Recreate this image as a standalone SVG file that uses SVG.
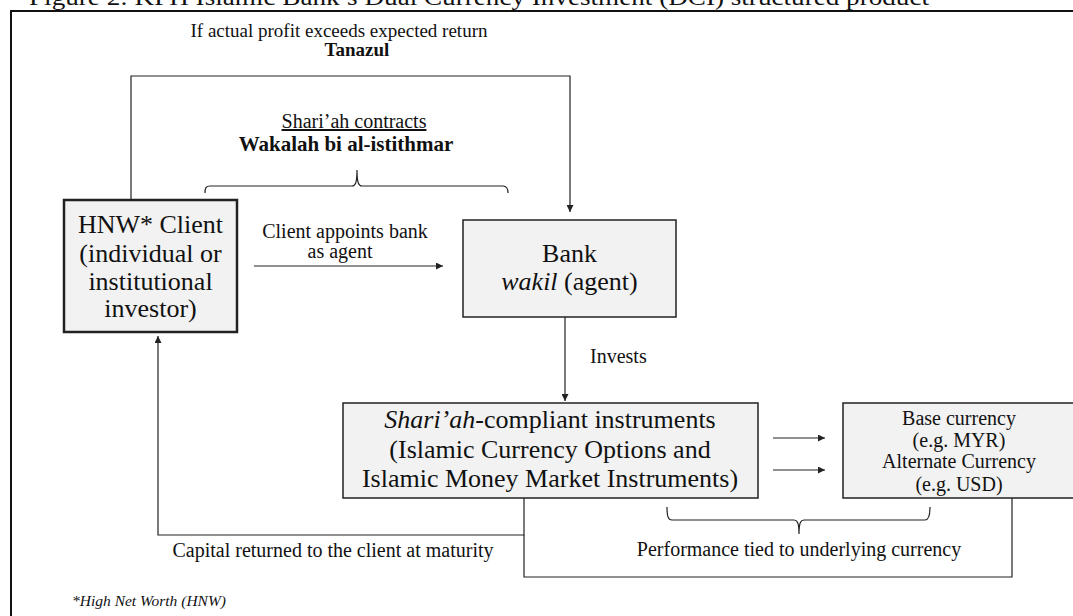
<svg xmlns="http://www.w3.org/2000/svg" width="1073" height="616" viewBox="0 0 1073 616">
<style>
text{font-family:"Liberation Serif","Times New Roman",serif;fill:#111}
.box{fill:#f2f2f2;stroke:#222;stroke-width:1.5}
.thick{stroke-width:2.5}
.ln{fill:none;stroke:#222;stroke-width:1.2}
.arr{marker-end:url(#ah)}
.b26{font-size:26px;text-anchor:middle}
.c20{font-size:20px;text-anchor:middle}
.lab{font-size:19px}
.mid{text-anchor:middle}
</style>
<defs>
<marker id="ah" viewBox="0 0 10 10" refX="10" refY="5" markerWidth="7" markerHeight="7" markerUnits="userSpaceOnUse" orient="auto">
<path d="M0,0 L10,5 L0,10 z" fill="#222"/>
</marker>
</defs>
<rect width="1073" height="616" fill="#fff"/>
<text x="29" y="5" font-size="24" textLength="900" lengthAdjust="spacingAndGlyphs">Figure 2: KFH Islamic Bank’s Dual Currency Investment (DCI) structured product</text>
<path d="M11,616 V11 H1073" fill="none" stroke="#111" stroke-width="2"/>

<g id="connectors">
<path class="ln arr" d="M131,200 V76 H570 V212"/>
<path class="ln arr" d="M254,266 H443"/>
<path class="ln arr" d="M565,317 V401"/>
<path class="ln arr" d="M773,438 H825"/>
<path class="ln arr" d="M773,470 H825"/>
<path class="ln arr" d="M524,498 V535 H158 V336"/>
<path class="ln" d="M524,535 V577 H1012 V498"/>
<path class="ln" d="M205,193 C205,188 206,186 210,186 L352,186 C355,186 357,184 357,170 C357,184 359,186 362,186 L503,186 C506,186 508,188 508,193"/>
<path class="ln" d="M667,507 C667,516 668,520 672,520 L794,520 C797,520 799,522 799,534 C799,522 801,520 804,520 L925,520 C928,520 930,516 930,507"/>
</g>

<g id="label-tanazul">
<text class="lab mid" x="339" y="37">If actual profit exceeds expected return</text>
<text class="lab mid" x="357" y="56" font-weight="bold">Tanazul</text>
</g>
<g id="label-contracts">
<text class="mid" x="354" y="128" font-size="20" text-decoration="underline">Shari’ah contracts</text>
<text class="mid" x="346" y="151" font-size="21" font-weight="bold">Wakalah bi al-istithmar</text>
</g>
<g id="label-appoints">
<text class="c20" x="345" y="238">Client appoints bank</text>
<text class="c20" x="340" y="258">as agent</text>
</g>
<g id="label-invests">
<text x="590" y="363" font-size="20">Invests</text>
</g>
<g id="label-capital">
<text class="c20" x="333" y="557">Capital returned to the client at maturity</text>
</g>
<g id="label-performance">
<text class="c20" x="799" y="556">Performance tied to underlying currency</text>
</g>

<g id="client">
<rect class="box thick" x="64" y="200" width="173" height="132"/>
<text class="b26" x="150.5" y="233">HNW* Client</text>
<text class="b26" x="150.5" y="262">(individual or</text>
<text class="b26" x="150.5" y="290">institutional</text>
<text class="b26" x="150.5" y="317">investor)</text>
</g>
<g id="bank">
<rect class="box" x="463" y="220" width="213" height="97"/>
<text class="b26" x="569.5" y="262">Bank</text>
<text class="b26" x="569.5" y="290"><tspan font-style="italic">wakil</tspan> (agent)</text>
</g>
<g id="instruments">
<rect class="box" x="343" y="403" width="415" height="95"/>
<text class="b26" x="550" y="428"><tspan font-style="italic">Shari’ah</tspan>-compliant instruments</text>
<text class="b26" x="550" y="458">(Islamic Currency Options and</text>
<text class="b26" x="550" y="487">Islamic Money Market Instruments)</text>
</g>
<g id="currency">
<rect class="box" x="843" y="403" width="240" height="95"/>
<text class="c20" x="959" y="425">Base currency</text>
<text class="c20" x="959" y="447">(e.g. MYR)</text>
<text class="c20" x="959" y="468">Alternate Currency</text>
<text class="c20" x="959" y="491">(e.g. USD)</text>
</g>
<g id="footnote">
<text x="72" y="606" font-size="15.5" font-style="italic">*High Net Worth (HNW)</text>
</g>
</svg>
